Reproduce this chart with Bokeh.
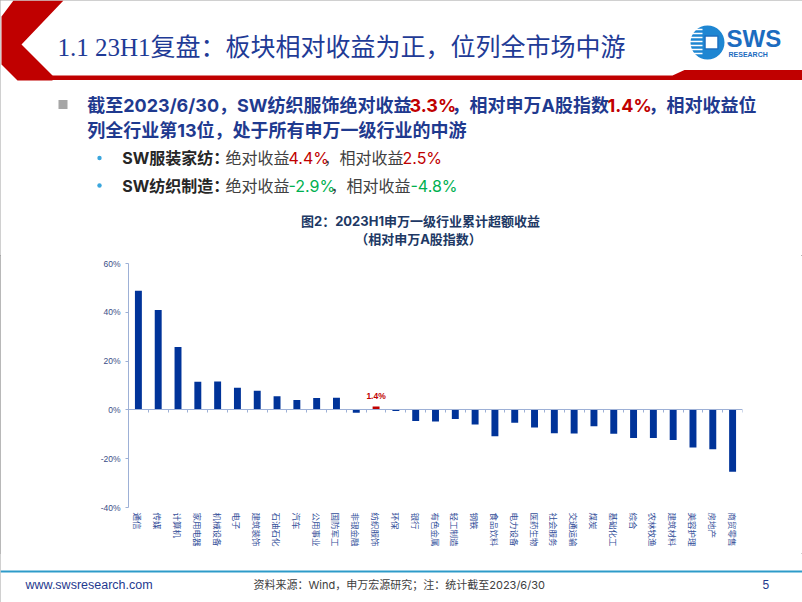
from bokeh.plotting import figure
from bokeh.layouts import column
from bokeh.models import Range1d, LinearAxis, FixedTicker, PrintfTickFormatter, ColumnDataSource
from bokeh.core.properties import value
from bokeh.embed import file_html
from bokeh.resources import INLINE

# ---------------- data ----------------
industries = ["通信", "传媒", "计算机", "家用电器", "机械设备", "电子", "建筑装饰", "石油石化",
              "汽车", "公用事业", "国防军工", "非银金融", "纺织服饰", "环保", "银行", "有色金属",
              "轻工制造", "钢铁", "食品饮料", "电力设备", "医药生物", "社会服务", "交通运输", "煤炭",
              "基础化工", "综合", "农林牧渔", "建筑材料", "美容护理", "房地产", "商贸零售"]
excess_return = [48.8, 40.9, 25.8, 11.5, 11.6, 9.1, 7.8, 5.6, 4.1, 4.9, 5.0, -1.2, 1.4, -0.5,
                 -4.5, -4.8, -3.7, -6.0, -10.8, -5.3, -7.2, -9.6, -9.7, -6.7, -9.8, -11.5,
                 -11.5, -12.3, -15.4, -16.1, -25.3]
highlight = "纺织服饰"
y_ticks = [-40, -20, 0, 20, 40, 60]

slide_title = "1.1 23H1复盘：板块相对收益为正，位列全市场中游"
chart_title_1 = "图2：2023H1申万一级行业累计超额收益"
chart_title_2 = "（相对申万A股指数）"
source_note = "资料来源：Wind，申万宏源研究；注：统计截至2023/6/30"
site = "www.swsresearch.com"
page_no = "5"

NAVY = "#1F3A8F"
RED = "#C00000"
GREEN = "#00B050"
GRAY = "#404040"
CJK = "Noto Sans CJK SC"
MIX = "Inter, Noto Sans CJK SC"

W = 802


def blank(height, y_top, y_bottom):
    p = figure(width=W, height=height, x_range=Range1d(0, W), y_range=Range1d(y_bottom, y_top),
               x_axis_location=None, y_axis_location=None, output_backend="svg",
               toolbar_location=None, min_border=0)
    p.frame_align = False
    p.outline_line_color = None
    p.grid.visible = False
    p.background_fill_color = "white"
    p.border_fill_color = "white"
    return p


def put(p, x, y, txt, size, color, font=MIX, style="normal", align="left"):
    p.text(x=[x], y=[y], text=[txt], text_font=value(font), text_font_size=size,
           text_color=color, text_font_style=style, text_align=align, text_baseline="middle")


# ---------------- header + bullets (y 0..255) ----------------
p1 = blank(255, 0, 255)

# red chevron and red rule
p1.patch(x=[13, 63, 21, 52, 52, 17, 1, 1], y=[0, 0, 44, 75, 80, 80, 64, 16], color=RED, line_width=0)
p1.patch(x=[40, 672, 684, 802, 802, 40], y=[75, 75, 69.5, 69.5, 79.5, 79.5], color=RED, line_width=0)

put(p1, 57, 47, slide_title, "25px", "#1F3B96", font="Liberation Serif, Noto Sans CJK SC")

# logo
p1.circle(x=[707], y=[42], radius=17, fill_color="#1E86D2", line_color=None)
stripe_y = [29, 33, 37, 41, 45, 49, 53]
p1.segment(x0=[688] * len(stripe_y), y0=stripe_y, x1=[702] * len(stripe_y), y1=stripe_y,
           line_color="white", line_width=1.6)
p1.rect(x=[711], y=[42], width=13, height=13, fill_color="white", line_color="#1E6FC0", line_width=1.5)
put(p1, 726, 38, "SWS", "24px", "#1C6CC0", font="Liberation Sans", style="bold")
put(p1, 728, 53.5, "RESEARCH", "7px", "#1C6CC0", font="Liberation Sans", style="bold")

# bullets
p1.rect(x=[62.5], y=[104], width=9, height=9, fill_color="#A6A6A6", line_color=None)
line1 = [("截至2023/6/30，SW纺织服饰绝对收益", NAVY, 86.7), ("3.3%", RED, 409),
         ("，相对申万A股指数", NAVY, 451), ("1.4%", RED, 607), ("，相对收益位", NAVY, 648)]
for t, c, x in line1:
    put(p1, x, 105, t, "18px", c, style="bold")
put(p1, 86.7, 129.5, "列全行业第13位，处于所有申万一级行业的中游", "18px", NAVY, style="bold")

p1.circle(x=[99, 99], y=[157.5, 185], radius=2.2, fill_color="#3AA6DD", line_color=None)
sub1 = [("SW服装家纺：", "#262626", 121.7, "bold"), ("绝对收益", GRAY, 225, "normal"),
        ("4.4%", RED, 288, "normal"), ("，相对收益", GRAY, 323, "normal"), ("2.5%", RED, 402, "normal")]
sub2 = [("SW纺织制造：", "#262626", 121.7, "bold"), ("绝对收益", GRAY, 225, "normal"),
        ("-2.9%", GREEN, 288, "normal"), ("，相对收益", GRAY, 330, "normal"), ("-4.8%", GREEN, 410, "normal")]
for t, c, x, s in sub1:
    put(p1, x, 157.5, t, "16px", c, style=s)
for t, c, x, s in sub2:
    put(p1, x, 185, t, "16px", c, style=s)

put(p1, 420, 220, chart_title_1, "13px", "#203864", style="bold", align="center")
put(p1, 418, 238, chart_title_2, "13px", "#203864", style="bold", align="center")

# ---------------- chart (y 255..553) ----------------
n = len(industries)
xs = list(range(1, n + 1))
colors = [RED if name == highlight else "#003399" for name in industries]
src = ColumnDataSource(dict(x=xs, top=excess_return, color=colors, name=industries))

p2 = figure(width=W, height=298, x_range=Range1d(0.5, n + 0.5), y_range=Range1d(-40, 60),
            x_axis_location=None, y_axis_location=None, output_backend="svg", toolbar_location=None,
            min_border_left=128, min_border_right=60, min_border_top=8, min_border_bottom=46)
p2.frame_align = False
p2.outline_line_color = None
p2.grid.visible = False
p2.background_fill_color = "white"
p2.border_fill_color = "white"

p2.vbar(x="x", top="top", bottom=0, width=0.35, fill_color="color", line_color=None, source=src)

hi = industries.index(highlight)
p2.text(x=[xs[hi]], y=[excess_return[hi]], text=[f"{excess_return[hi]}%"], text_align="center",
        text_baseline="bottom", y_offset=-5, text_font=value("Liberation Sans"), text_font_size="8.5px",
        text_font_style="bold", text_color=RED)

AX = "#9DB0D6"
yaxis = LinearAxis(ticker=FixedTicker(ticks=y_ticks), formatter=PrintfTickFormatter(format="%d%%"))
yaxis.axis_line_color = AX
yaxis.major_tick_line_color = AX
yaxis.major_tick_in = 0
yaxis.major_tick_out = 3
yaxis.minor_tick_line_color = None
yaxis.major_label_standoff = 5
yaxis.major_label_text_font = "Liberation Sans"
yaxis.major_label_text_font_size = "8.5px"
yaxis.major_label_text_color = "#3B4E87"
p2.add_layout(yaxis, "left")

label_axis = LinearAxis(ticker=FixedTicker(ticks=xs),
                        major_label_overrides={x: name for x, name in zip(xs, industries)})
label_axis.axis_line_color = None
label_axis.major_tick_line_color = None
label_axis.major_tick_out = 0
label_axis.major_tick_in = 0
label_axis.minor_tick_line_color = None
label_axis.major_label_orientation = "vertical"
label_axis.major_label_standoff = 5
label_axis.major_label_text_font = CJK
label_axis.major_label_text_font_size = "8.5px"
label_axis.major_label_text_color = "#35509A"
p2.add_layout(label_axis, "below")

bounds = [x - 0.5 for x in xs] + [n + 0.5]
zero_axis = LinearAxis(ticker=FixedTicker(ticks=bounds), fixed_location=0,
                       major_label_overrides={b: "" for b in bounds})
zero_axis.axis_line_color = AX
zero_axis.major_tick_line_color = AX
zero_axis.major_tick_in = 0
zero_axis.major_tick_out = 3
zero_axis.minor_tick_line_color = None
zero_axis.major_label_text_font_size = "1px"
zero_axis.major_label_standoff = 0
p2.add_layout(zero_axis, "below")

# ---------------- footer (y 553..602) ----------------
p3 = blank(49, 553, 602)
p3.segment(x0=[0], y0=[571], x1=[802], y1=[571], line_color="#2E9BC9", line_width=2.2)
put(p3, 25, 584, site, "12.5px", NAVY, font="Liberation Sans")
put(p3, 253, 584, source_note, "11px", GRAY, font=MIX)
put(p3, 762, 584, page_no, "12px", NAVY, font="Liberation Sans")

layout = column(p1, p2, p3, spacing=0,
                styles={"outline": "1px solid #A0A0A0", "outline-offset": "-1px"})
open("out.html", "w").write(file_html(layout, INLINE))
